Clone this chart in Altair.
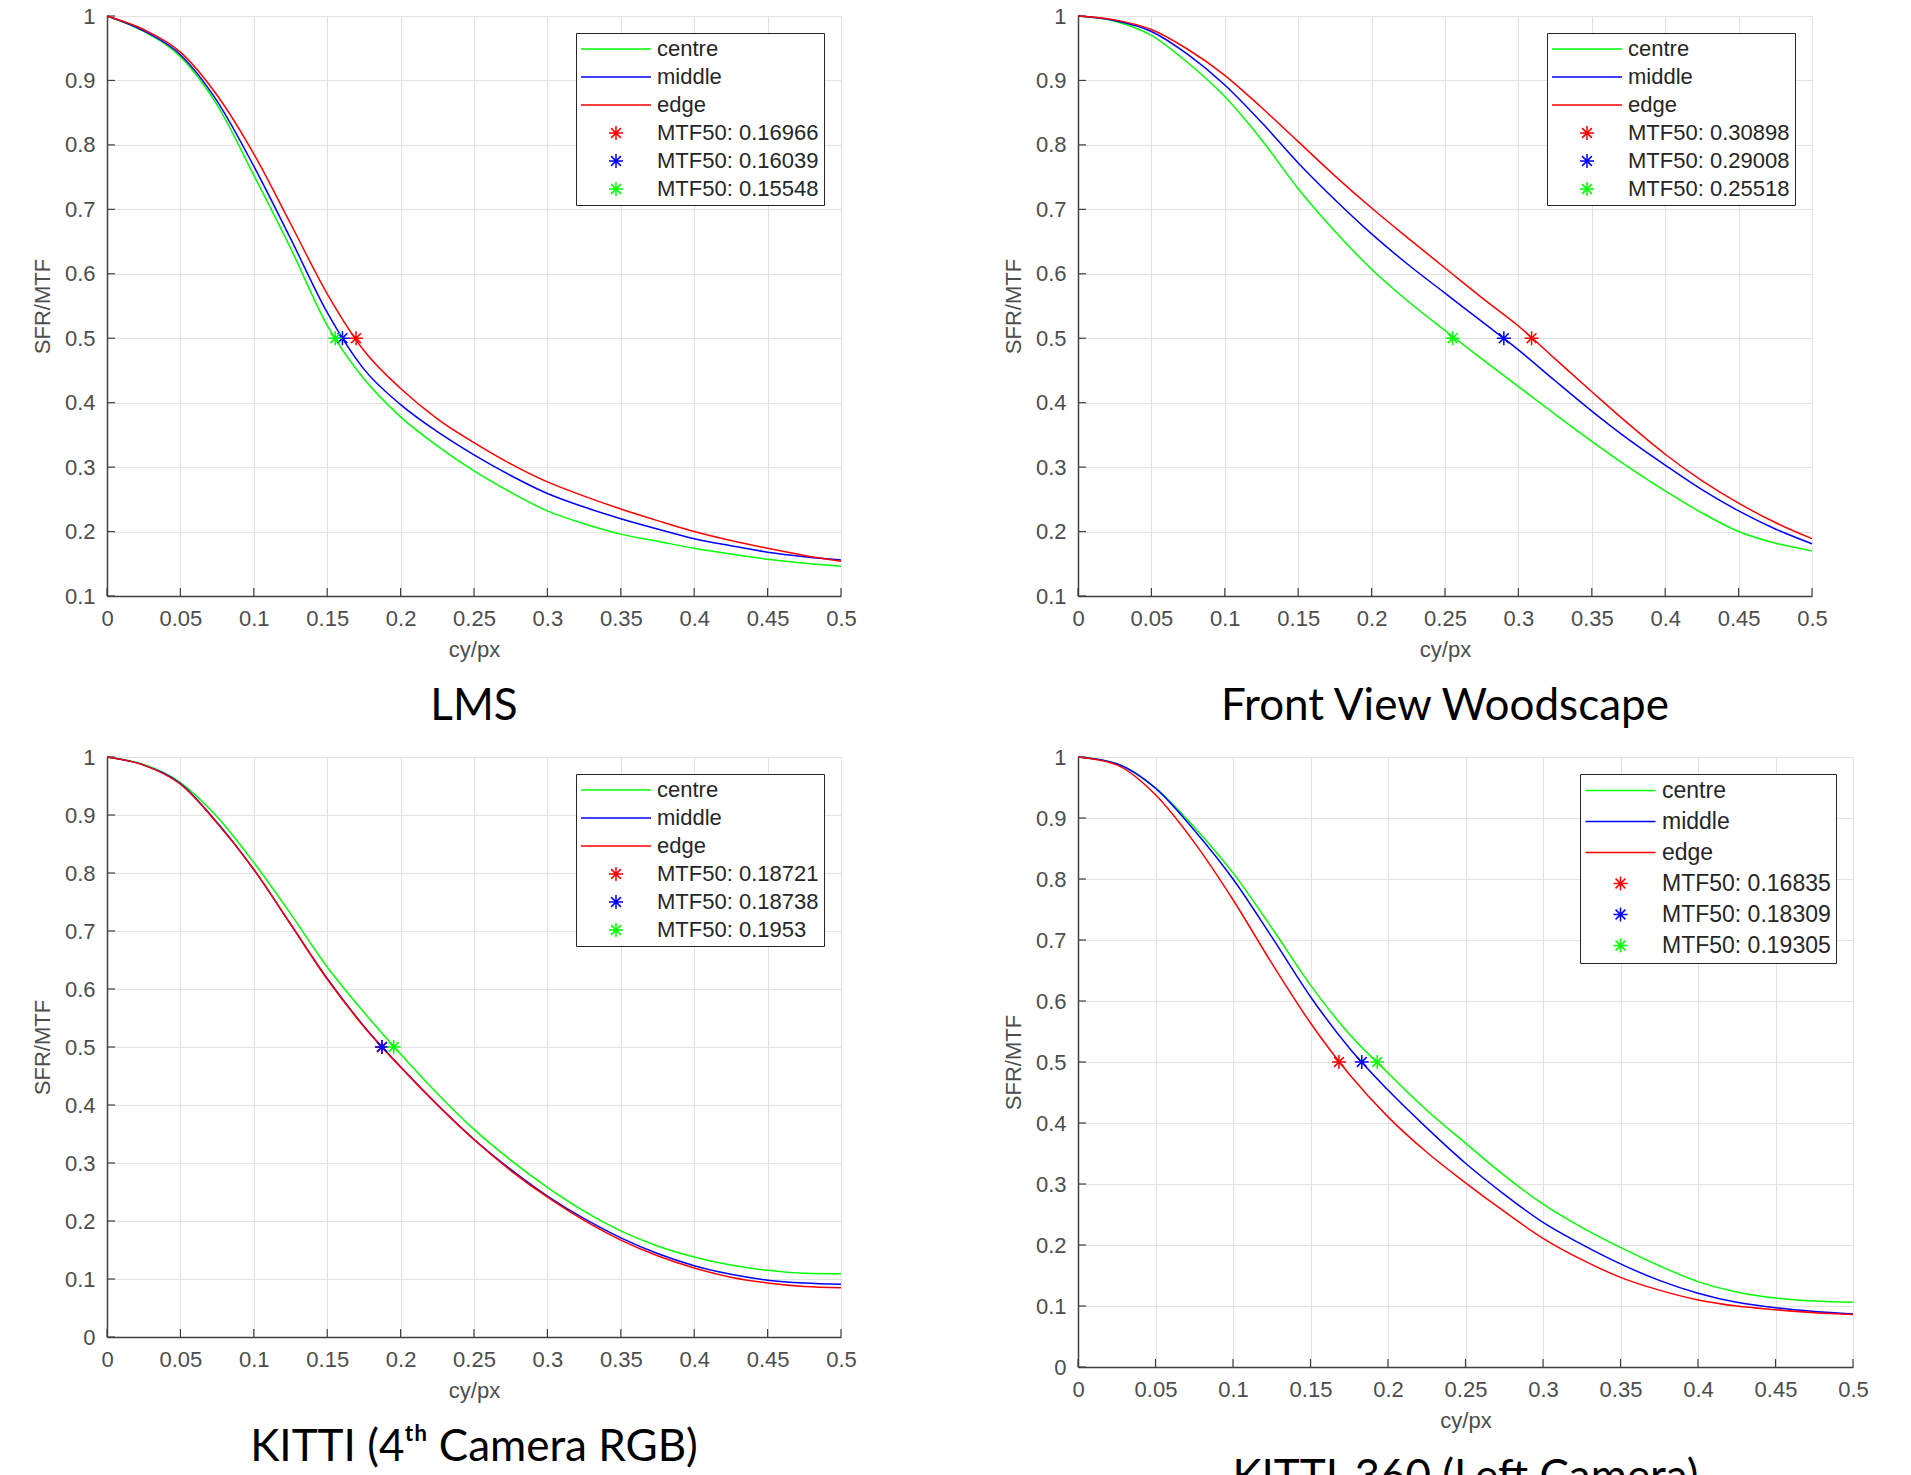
import altair as alt
import pandas as pd

# ---------------- data ----------------
freq = [0.0, 0.025, 0.05, 0.075, 0.1, 0.125, 0.15, 0.175, 0.2, 0.225, 0.25,
        0.275, 0.3, 0.325, 0.35, 0.375, 0.4, 0.425, 0.45, 0.475, 0.5]

x_ticks = [0, 0.05, 0.1, 0.15, 0.2, 0.25, 0.3, 0.35, 0.4, 0.45, 0.5]
y_ticks_01 = [0.1, 0.2, 0.3, 0.4, 0.5, 0.6, 0.7, 0.8, 0.9, 1]
y_ticks_0 = [0, 0.1, 0.2, 0.3, 0.4, 0.5, 0.6, 0.7, 0.8, 0.9, 1]

series_names = ["centre", "middle", "edge"]

# LMS
lms_centre = [1.0, 0.976, 0.937, 0.862, 0.753, 0.640, 0.520, 0.437, 0.378, 0.333, 0.294,
              0.261, 0.232, 0.212, 0.196, 0.185, 0.174, 0.165, 0.157, 0.151, 0.146]
lms_middle = [1.0, 0.977, 0.940, 0.868, 0.767, 0.655, 0.540, 0.452, 0.397, 0.355, 0.319,
              0.287, 0.259, 0.238, 0.220, 0.204, 0.189, 0.178, 0.168, 0.161, 0.156]
lms_edge = [1.0, 0.979, 0.944, 0.877, 0.786, 0.678, 0.569, 0.481, 0.422, 0.375, 0.338,
            0.305, 0.277, 0.255, 0.235, 0.217, 0.200, 0.186, 0.174, 0.163, 0.154]
lms_mtf = ["0.16966", "0.16039", "0.15548"]          # edge, middle, centre

# Front View Woodscape
wood_centre = [1.0, 0.992, 0.970, 0.927, 0.875, 0.808, 0.732, 0.666, 0.607, 0.557, 0.512,
               0.468, 0.425, 0.382, 0.340, 0.300, 0.263, 0.229, 0.200, 0.182, 0.170]
wood_middle = [1.0, 0.993, 0.976, 0.940, 0.893, 0.835, 0.772, 0.715, 0.662, 0.614, 0.570,
               0.526, 0.482, 0.434, 0.387, 0.343, 0.303, 0.265, 0.232, 0.204, 0.181]
wood_edge = [1.0, 0.994, 0.979, 0.948, 0.908, 0.858, 0.805, 0.752, 0.702, 0.655, 0.609,
             0.563, 0.519, 0.468, 0.417, 0.367, 0.320, 0.279, 0.244, 0.214, 0.189]
wood_mtf = ["0.30898", "0.29008", "0.25518"]

# KITTI (4th camera RGB)
kitti_centre = [1.0, 0.987, 0.956, 0.897, 0.818, 0.730, 0.638, 0.560, 0.488, 0.420, 0.358,
                0.305, 0.258, 0.217, 0.183, 0.157, 0.138, 0.124, 0.115, 0.110, 0.109]
kitti_middle = [1.0, 0.986, 0.954, 0.887, 0.806, 0.712, 0.618, 0.536, 0.466, 0.401, 0.341,
                0.289, 0.243, 0.204, 0.171, 0.144, 0.123, 0.108, 0.098, 0.093, 0.091]
kitti_edge = [1.0, 0.986, 0.953, 0.886, 0.806, 0.712, 0.617, 0.535, 0.465, 0.400, 0.340,
              0.287, 0.241, 0.201, 0.167, 0.140, 0.119, 0.103, 0.093, 0.087, 0.085]
kitti_mtf = ["0.18721", "0.18738", "0.1953"]

# KITTI-360 (left camera)
k360_centre = [1.0, 0.989, 0.949, 0.885, 0.810, 0.720, 0.626, 0.546, 0.482, 0.421, 0.367,
               0.314, 0.267, 0.229, 0.196, 0.166, 0.140, 0.123, 0.113, 0.108, 0.106]
k360_middle = [1.0, 0.989, 0.949, 0.880, 0.800, 0.705, 0.607, 0.523, 0.454, 0.392, 0.334,
               0.283, 0.237, 0.201, 0.169, 0.142, 0.121, 0.106, 0.097, 0.091, 0.087]
k360_edge = [1.0, 0.987, 0.938, 0.860, 0.766, 0.662, 0.564, 0.480, 0.410, 0.352, 0.302,
             0.255, 0.211, 0.176, 0.147, 0.126, 0.110, 0.100, 0.094, 0.089, 0.086]
k360_mtf = ["0.16835", "0.18309", "0.19305"]

titles = ["LMS", "Front View Woodscape", "KITTI (4ᵗʰ Camera RGB)", "KITTI-360 (Left Camera)"]

# ---------------- styling ----------------
GREEN, BLUE, RED = "#00ff00", "#0000ff", "#ff0000"
AXIS_COLOR = "#404040"
# asterisk marker (unit coordinates, scaled by sqrt(size)/2)
STAR = "M-1,0L1,0M0,-1L0,1M-0.7,-0.7L0.7,0.7M-0.7,0.7L0.7,-0.7"
# long horizontal stroke used as the legend symbol of the lines
DASH = "M-5,0L5,0"
SYM = 196


def make_panel(title, centre, middle, edge, mtf, ymin, yticks, w, h, font=22, rowpad=6):
    rows = []
    for name, vals in zip(series_names, [centre, middle, edge]):
        for f, v in zip(freq, vals):
            rows.append({"f": f, "v": v, "label": name})
    lines_df = pd.DataFrame(rows)

    mtf_labels = ["MTF50: " + s for s in mtf]
    pts_df = pd.DataFrame({"f": [float(s) for s in mtf],
                           "v": [0.5, 0.5, 0.5],
                           "label": mtf_labels})

    xt_df = pd.DataFrame({"f": x_ticks, "v": [ymin] * len(x_ticks)})
    yt_df = pd.DataFrame({"f": [0.0] * len(yticks), "v": yticks})

    domain = series_names + mtf_labels
    color_scale = alt.Scale(domain=domain, range=[GREEN, BLUE, RED, RED, BLUE, GREEN])
    shape_scale = alt.Scale(domain=domain, range=[DASH, DASH, DASH, STAR, STAR, STAR])

    legend = alt.Legend(title=None, labelFontSize=font, rowPadding=rowpad)

    x = alt.X("f:Q", scale=alt.Scale(domain=[0, 0.5], nice=False, zero=False),
              axis=alt.Axis(values=x_ticks, format="~g", title="cy/px"))
    y = alt.Y("v:Q", scale=alt.Scale(domain=[ymin, 1], nice=False, zero=False),
              axis=alt.Axis(values=yticks, format="~g", title="SFR/MTF"))

    # inward tick marks (MATLAB style)
    xt = alt.Chart(xt_df).mark_tick(orient="vertical", size=8, thickness=1.2,
                                    color=AXIS_COLOR, opacity=1, yOffset=-4).encode(x=x, y=y)
    yt = alt.Chart(yt_df).mark_tick(orient="horizontal", size=8, thickness=1.2,
                                    color=AXIS_COLOR, opacity=1, xOffset=4).encode(x=x, y=y)

    lines = alt.Chart(lines_df).mark_line(strokeWidth=1.5, interpolate="monotone").encode(
        x=x, y=y,
        color=alt.Color("label:N", scale=color_scale, legend=legend),
    )
    pts = alt.Chart(pts_df).mark_point(filled=False, size=SYM, strokeWidth=1.5, opacity=1).encode(
        x=x, y=y,
        color=alt.Color("label:N", scale=color_scale, legend=legend),
        shape=alt.Shape("label:N", scale=shape_scale, legend=legend),
    )
    return alt.layer(xt, yt, lines, pts).properties(
        width=w, height=h,
        title=alt.TitleParams(title, orient="bottom", anchor="middle"),
    )


p1 = make_panel(titles[0], lms_centre, lms_middle, lms_edge, lms_mtf, 0.1, y_ticks_01, 734, 580)
p2 = make_panel(titles[1], wood_centre, wood_middle, wood_edge, wood_mtf, 0.1, y_ticks_01, 734, 580)
p3 = make_panel(titles[2], kitti_centre, kitti_middle, kitti_edge, kitti_mtf, 0.0, y_ticks_0, 734, 580)
p4 = make_panel(titles[3], k360_centre, k360_middle, k360_edge, k360_mtf, 0.0, y_ticks_0, 775, 610,
                font=23, rowpad=7)

chart = alt.concat(
    p1, p2, p3, p4, columns=2, bounds="flush",
    spacing=alt.RowColnumber(row=161, column=237),
).resolve_scale(
    color="independent", shape="independent"
).properties(
    padding={"left": 31, "top": 5, "right": 5, "bottom": 5},
    background="white",
).configure_view(
    stroke=None
).configure_axis(
    labelFont="Liberation Sans", labelFontSize=22, labelColor="#4d4d4d",
    titleFont="Liberation Sans", titleFontSize=22, titleFontWeight="normal", titleColor="#4d4d4d",
    gridColor="#e2e2e2", gridWidth=1, domainColor=AXIS_COLOR, domainWidth=1.5,
    ticks=False, tickSize=0, labelPadding=12, titlePadding=10,
    labelFlush=False, labelOverlap=False,
).configure_legend(
    orient="top-right", offset=17, padding=5,
    fillColor="white", strokeColor="#262626", strokeWidth=1,
    labelFont="Liberation Sans", labelFontSize=22, labelColor="#262626",
    labelOffset=30, labelLimit=500, rowPadding=6,
    symbolSize=SYM, symbolOffset=24, symbolStrokeWidth=1.5,
).configure_title(
    font="Lato", fontSize=44, fontWeight="normal", color="black", offset=25,
)

chart.save("out.html", embed_options={"renderer": "svg", "actions": False})
